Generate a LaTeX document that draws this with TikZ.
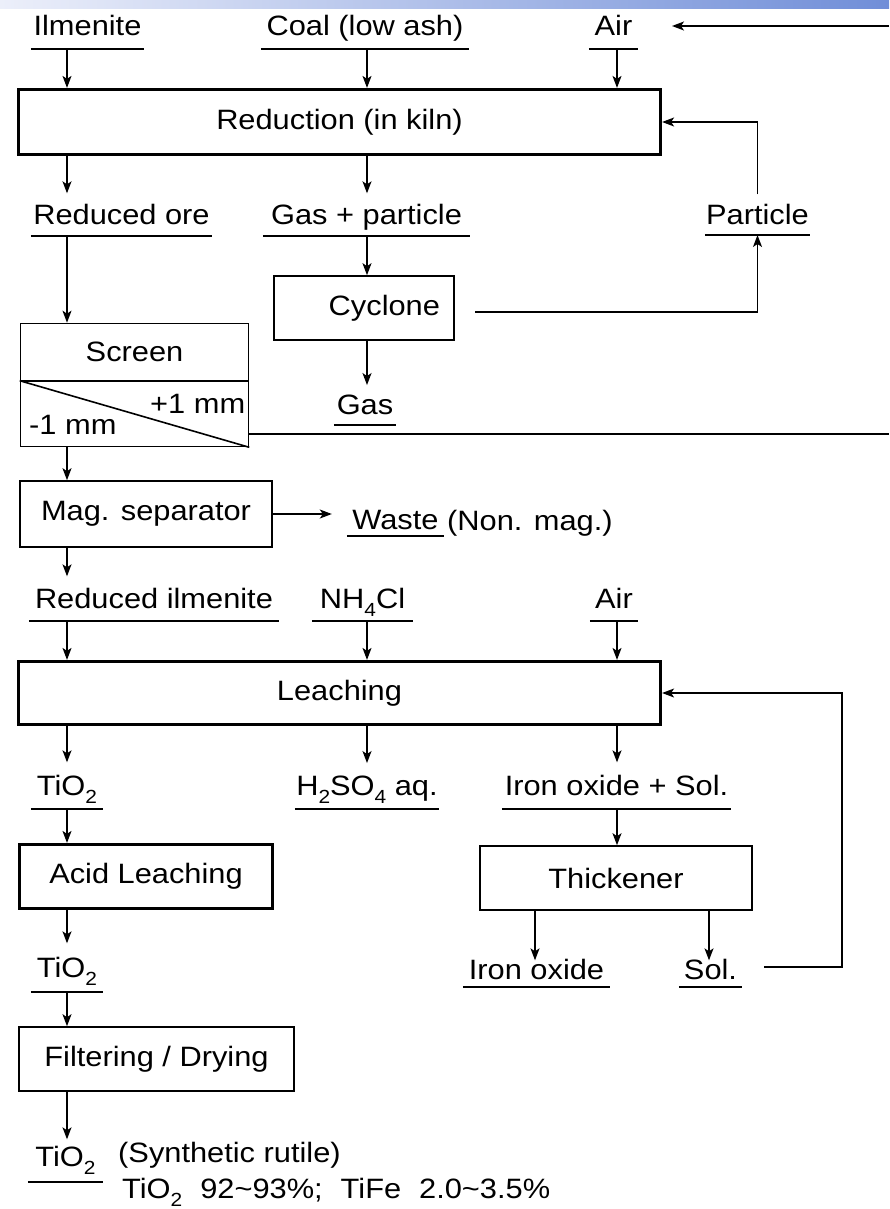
\documentclass[tikz,border=0pt]{standalone}
\usepackage{fontspec}
\setmainfont{Liberation Sans}[FakeStretch=1.1]
\usetikzlibrary{arrows.meta}
\newcommand\mysub[1]{\raisebox{-8pt}{\fontsize{19}{19}\selectfont #1}}
\begin{document}
\begin{tikzpicture}[x=1pt,y=-1pt,
  every node/.style={font=\fontsize{28}{32}\selectfont, text=black},
  ln/.style={line width=1.4pt},
  arr/.style={ln, -{Stealth[length=12pt,width=9pt,inset=3pt]}},
  box/.style={draw, line width=1.6pt, inner sep=0pt},
  tbox/.style={draw, line width=3.2pt, inner sep=0pt},
  ul/.style={anchor=south, text depth=0pt, inner xsep=0pt, inner ysep=#1},
  ul/.default=12pt,
  free/.style={anchor=base west, inner sep=0pt}
]
\useasboundingbox (0,0) rectangle (889,1209);
\shade[left color={rgb,255:red,236;green,239;blue,250}, right color={rgb,255:red,112;green,142;blue,216}] (0,0) rectangle (889,9);

% columns
\coordinate (c1) at (67,0);
\coordinate (c2) at (367,0);
\coordinate (c3) at (617,0);
\coordinate (c4) at (535,0);
\coordinate (c5) at (709,0);
\coordinate (c7) at (842,0);

% boxes
\node[tbox, minimum width=642pt, minimum height=65pt] (red) at (339.5,122) {Reduction (in kiln)};
\node[box, minimum width=180pt, minimum height=64pt, inner xsep=14pt, text width=152pt, align=right] (cyc) at (364,308) {Cyclone};
\node[box, minimum width=228pt, minimum height=57pt] (screen) at (134.5,352) {Screen};
\node[box, minimum width=228pt, minimum height=65pt] (sieve) at (134.5,414) {};
\node[box, minimum width=252pt, minimum height=66pt] (mag) at (146,514) {Mag. separator};
\node[tbox, minimum width=642pt, minimum height=63pt] (leach) at (339.5,693) {Leaching};
\node[tbox, minimum width=253pt, minimum height=64pt] (acid) at (146,876.5) {Acid Leaching};
\node[box, minimum width=272pt, minimum height=64pt] (thick) at (616,878) {Thickener};
\node[box, minimum width=275pt, minimum height=64pt] (filt) at (156.5,1059) {Filtering / Drying};

\draw[line width=1.6pt] (sieve.north west) -- (sieve.south east);
\node[free] (plus) at (150,413) {+1 mm};
\node[free] (minus) at (29,434) {-1 mm};

% underlined labels
\node[ul=13pt, minimum width=113pt] (ilm) at (87.5,49) {Ilmenite};
\node[ul=13pt, minimum width=208pt] (coal) at (365,49) {Coal (low ash)};
\node[ul=13pt, minimum width=49pt] (air1) at (613.5,49) {Air};
\node[ul=11pt, minimum width=181pt] (redore) at (121.5,236) {Reduced ore};
\node[ul=11pt, minimum width=207pt] (gaspart) at (366.5,236) {Gas + particle};
\node[ul=10pt, minimum width=105pt] (particle) at (757.5,235) {Particle};
\node[ul=10pt, minimum width=62pt] (gas) at (365,425) {Gas};
\node[ul=6pt, minimum width=97pt] (waste) at (395.5,536) {Waste};
\node[free] (nonmag) at (447,530) {(Non. mag.)};
\node[ul=12pt, minimum width=250pt] (redilm) at (154,621) {Reduced ilmenite};
\node[ul=12pt, minimum width=101pt] (nh4cl) at (362.5,621) {NH\mysub{4}Cl};
\node[ul=12pt, minimum width=48pt] (air2) at (614,621) {Air};
\node[ul=13pt, minimum width=72pt] (tio2a) at (67,809) {TiO\mysub{2}};
\node[ul=13pt, minimum width=144pt] (h2so4) at (367,809) {H\mysub{2}SO\mysub{4} aq.};
\node[ul=13pt, minimum width=229pt] (ironsol) at (616.5,809) {Iron oxide + Sol.};
\node[ul=7pt, minimum width=147pt] (ironox) at (536.5,987) {Iron oxide};
\node[ul=7pt, minimum width=63pt] (sol) at (710.5,987) {Sol.};
\node[ul=14pt, minimum width=72pt] (tio2b) at (67,992) {TiO\mysub{2}};
\node[ul=15pt, minimum width=75pt] (tio2c) at (65.5,1182) {TiO\mysub{2}};
\node[free] (syn) at (118,1162) {(Synthetic rutile)};
\node[free] (comp) at (122,1198) {TiO\mysub{2}\hspace{18pt}92\textasciitilde93\%;\hspace{18pt}TiFe\hspace{18pt}2.0\textasciitilde3.5\%};

\foreach \n in {ilm,coal,air1,redore,gaspart,particle,gas,waste,redilm,nh4cl,air2,tio2a,h2so4,ironsol,ironox,sol,tio2b,tio2c}
  \draw[ln] (\n.south west) -- (\n.south east);

% free ends
\coordinate (airsrc) at (889,26);
\coordinate (airtip) at (672,26);
\coordinate (cycout) at (475,312);
\coordinate (recout) at (889,434);
\coordinate (solout) at (764,967);

% connectors
\draw[arr] (ilm.south -| c1) -- (red.north -| c1);
\draw[arr] (coal.south -| c2) -- (red.north -| c2);
\draw[arr] (air1.south -| c3) -- (red.north -| c3);
\draw[arr] (airsrc) -- (airtip);
\draw[arr] (red.south -| c1) -- (redore.north -| c1);
\draw[arr] (red.south -| c2) -- (gaspart.north -| c2);
\draw[arr] (particle.north) -- (particle.north |- red.east) -- (red.east);
\draw[arr] (cycout) -| (particle.south);
\draw[arr] (redore.south -| c1) -- (screen.north -| c1);
\draw[arr] (gaspart.south -| c2) -- (cyc.north -| c2);
\draw[arr] (cyc.south -| c2) -- (gas.north -| c2);
\draw[ln] (sieve.east |- recout) -- (recout);
\draw[arr] (sieve.south -| c1) -- (mag.north -| c1);
\draw[arr, shorten >=15pt] (mag.east) -- (mag.east -| waste.west);
\draw[arr] (mag.south -| c1) -- (redilm.north -| c1);
\draw[arr] (redilm.south -| c1) -- (leach.north -| c1);
\draw[arr] (nh4cl.south -| c2) -- (leach.north -| c2);
\draw[arr] (air2.south -| c3) -- (leach.north -| c3);
\draw[arr] (leach.south -| c1) -- (tio2a.north -| c1);
\draw[arr] (leach.south -| c2) -- (h2so4.north -| c2);
\draw[arr] (leach.south -| c3) -- (ironsol.north -| c3);
\draw[arr] (solout) -| (c7 |- leach.east) -- (leach.east);
\draw[arr] (tio2a.south -| c1) -- (acid.north -| c1);
\draw[arr] (ironsol.south -| c3) -- (thick.north -| c3);
\draw[arr, shorten >=-8pt] (thick.south -| c4) -- (ironox.north -| c4);
\draw[arr, shorten >=-8pt] (thick.south -| c5) -- (sol.north -| c5);
\draw[arr] (acid.south -| c1) -- (tio2b.north -| c1);
\draw[arr] (tio2b.south -| c1) -- (filt.north -| c1);
\draw[arr, shorten >=-8pt] (filt.south -| c1) -- (tio2c.north -| c1);
\end{tikzpicture}
\end{document}
